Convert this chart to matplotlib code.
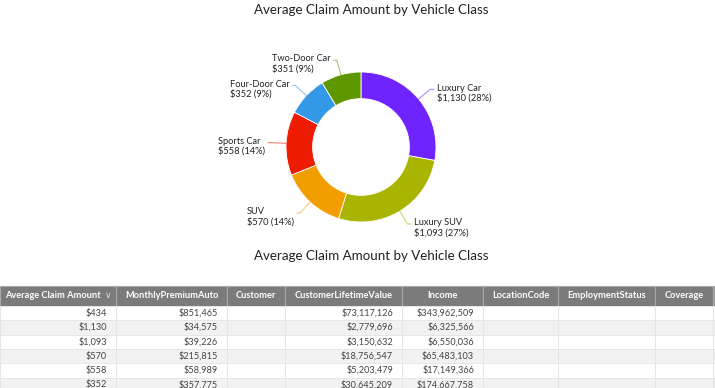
import matplotlib
matplotlib.use("Agg")
import matplotlib.pyplot as plt
import numpy as np
from matplotlib.patches import Rectangle

plt.rcParams['font.family'] = ['Lato', 'DejaVu Sans']

# ---- data ----
classes = ["Luxury Car", "Luxury SUV", "SUV", "Sports Car", "Four-Door Car", "Two-Door Car"]
avg_claim = [1130, 1093, 570, 558, 352, 351]
slice_colors = ["#6F24FF", "#A8B400", "#F29D00", "#EE1C00", "#3399E6", "#5E9600"]

chart_title = "Average Claim Amount by Vehicle Class"
table_title = "Average Claim Amount by Vehicle Class"

headers = ["Average Claim Amount", "MonthlyPremiumAuto", "Customer", "CustomerLifetimeValue",
           "Income", "LocationCode", "EmploymentStatus", "Coverage"]
col_avg_claim = ["$434", "$1,130", "$1,093", "$570", "$558", "$352"]
col_premium = ["$851,465", "$34,575", "$39,226", "$215,815", "$58,989", "$357,775"]
col_customer = ["", "", "", "", "", ""]
col_clv = ["$73,117,126", "$2,779,696", "$3,150,632", "$18,756,547", "$5,203,479", "$30,645,209"]
col_income = ["$343,962,509", "$6,325,566", "$6,550,036", "$65,483,103", "$17,149,366", "$174,667,758"]
col_location = ["", "", "", "", "", ""]
col_employment = ["", "", "", "", "", ""]
col_coverage = ["", "", "", "", "", ""]

W, H = 715, 388
fig = plt.figure(figsize=(W / 100, H / 100), dpi=100)
fig.patch.set_facecolor("white")

# ---- donut ----
cx, cy, R = 361, 147, 75
ax = fig.add_axes([(cx - R) / W, (H - cy - R) / H, 2 * R / W, 2 * R / H])
ax.axis("off")
wedges, _ = ax.pie(avg_claim, colors=slice_colors, startangle=90, counterclock=False,
                   radius=1.0, wedgeprops=dict(width=0.355, edgecolor="white", linewidth=0.6))
ax.set_xlim(-1, 1)
ax.set_ylim(-1, 1)
ax.set_aspect("equal")
total = sum(avg_claim)
for w, name, val, col in zip(wedges, classes, avg_claim, slice_colors):
    ang = np.deg2rad((w.theta1 + w.theta2) / 2)
    c, s = np.cos(ang), np.sin(ang)
    x0, y0 = 1.0 * c, 1.0 * s
    x1, y1 = 1.2 * c, 1.2 * s
    right = c >= 0
    x2 = x1 + (0.05 if right else -0.04)
    ax.plot([x0, x1, x2], [y0, y1, y1], color=col, lw=0.8, alpha=0.55, clip_on=False,
            solid_capstyle="round")
    pct = round(100 * val / total)
    label = f"{name}\n${val:,} ({pct}%)"
    ax.text(x2 + (0.04 if right else -0.04), y1 - 0.05, label, ha="left" if right else "right",
            va="center", multialignment="left", fontsize=6.7, color="#222222",
            linespacing=1.1, clip_on=False)

# ---- overlay axes in pixel coordinates ----
ov = fig.add_axes([0, 0, 1, 1])
ov.set_xlim(0, W)
ov.set_ylim(H, 0)
ov.axis("off")
ov.patch.set_alpha(0)

ov.text(371, 10, chart_title, ha="center", va="center", fontsize=9.6, color="#222222")
ov.text(371, 256, table_title, ha="center", va="center", fontsize=9.6, color="#222222")

# table
col_edges = [0, 116, 227, 285, 402, 483, 558, 655, 713, 760]
hdr_top, hdr_bot = 286, 306
row_h = 14.3
columns = [col_avg_claim, col_premium, col_customer, col_clv, col_income,
           col_location, col_employment, col_coverage]
all_headers = headers + [""]

for i in range(len(col_edges) - 1):
    x0, x1 = col_edges[i], col_edges[i + 1]
    face = "#7B7B7B" if i < len(headers) else "#9A9A9A"
    ov.add_patch(Rectangle((x0, hdr_top), x1 - x0, hdr_bot - hdr_top, facecolor=face,
                           edgecolor="#A8A8A8", lw=0.8, clip_on=False))
    if i < len(headers):
        txt = all_headers[i]
        if i == 0:
            ov.text(x0 + 5, (hdr_top + hdr_bot) / 2, txt, ha="left", va="center",
                    fontsize=6.7, color="white", fontweight="bold")
            ov.text(x1 - 8, (hdr_top + hdr_bot) / 2, "\u2228", ha="center", va="center",
                    fontsize=6.5, color="#E0E0E0", family="DejaVu Sans")
        else:
            ov.text((x0 + x1) / 2, (hdr_top + hdr_bot) / 2, txt, ha="center", va="center",
                    fontsize=6.7, color="white", fontweight="bold")

n_rows = len(col_avg_claim)
for r in range(n_rows):
    y0 = hdr_bot + r * row_h
    bg = "white" if r % 2 == 0 else "#F2F2F2"
    for i in range(len(col_edges) - 1):
        x0, x1 = col_edges[i], col_edges[i + 1]
        ov.add_patch(Rectangle((x0, y0), x1 - x0, row_h, facecolor=bg, edgecolor="#E6E6E6",
                               lw=0.7, clip_on=False))
        if i < len(columns) and columns[i][r]:
            ov.text(x1 - 9, y0 + row_h / 2, columns[i][r], ha="right", va="center",
                    fontsize=6.6, color="#444444")

fig.savefig("out.png", dpi=100, facecolor="white")
